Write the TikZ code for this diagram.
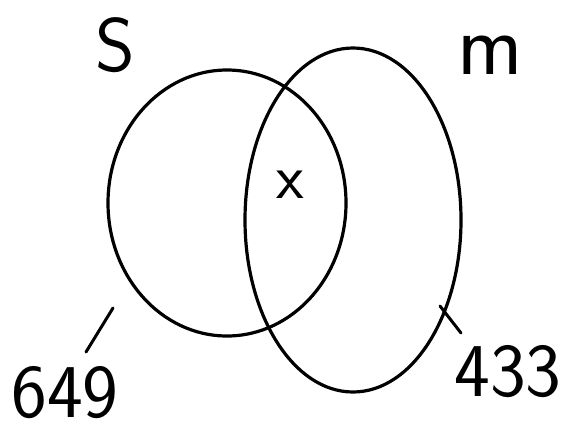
\documentclass[tikz,border=0pt]{standalone}
\usepackage{fontspec}
\setmainfont{DejaVu Sans}
\usetikzlibrary{shapes.geometric}
\begin{document}
\begin{tikzpicture}[x=1pt,y=-1pt,
  ring/.style={draw=black,line width=3.2pt},
  tick/.style={draw=black,line width=3pt,line cap=round},
  lbl/.style={inner sep=0pt,font=\fontsize{76}{78}\selectfont\sffamily}]
\useasboundingbox (0,0) rectangle (564,434);
\node[ring,ellipse,minimum width=238pt,minimum height=266pt,inner sep=0pt] (S) at (227,203) {};
\node[ring,ellipse,minimum width=216pt,minimum height=344pt,inner sep=0pt] (M) at (353,220) {};
\node[lbl] (sl) at (115,45) {S};
\node[inner sep=0pt,font=\fontsize{88}{90}\selectfont\sffamily] (ml) at (490,55) {m};
\node[inner sep=0pt,font=\fontsize{64}{66}\selectfont\sffamily] (x) at (290,185) {x};
\node[lbl] (n1) at (65,393) {649};
\node[lbl] (n2) at (508,372) {433};
\coordinate (a1) at (113,308);
\coordinate (a2) at (86,352);
\coordinate (b1) at (440,306);
\coordinate (b2) at (461,333);
\draw[tick] (a1) -- (a2);
\draw[tick] (b1) -- (b2);
\end{tikzpicture}
\end{document}
